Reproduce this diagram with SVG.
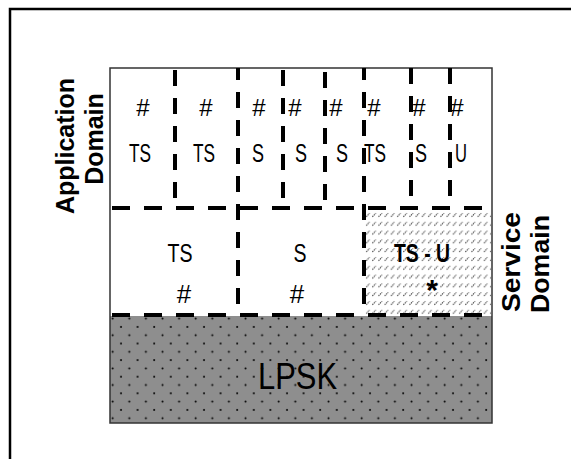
<svg xmlns="http://www.w3.org/2000/svg" width="571" height="459" viewBox="0 0 571 459">
  <style>
    .frame { fill: none; stroke: #000; stroke-width: 2.5; }
    .box { fill: none; stroke: #333; stroke-width: 1.5; }
    .vdash { stroke: #000; stroke-width: 4; stroke-dasharray: 16 12; fill: none; }
    .hdash { stroke: #000; stroke-width: 4; stroke-dasharray: 18 14; fill: none; }
    .lbl { font-family: "Liberation Sans", Arial, sans-serif; fill: #000; text-anchor: middle; }
    .hash { font-size: 24px; }
    .name { font-size: 25px; }
    .big { font-size: 26px; }
    .side { font-family: "Liberation Sans", Arial, sans-serif; font-weight: bold; font-size: 25px; fill: #000; }
  </style>
  <defs>
    <pattern id="dots" patternUnits="userSpaceOnUse" x="117" y="323" width="16.6" height="16.6">
      <circle cx="4" cy="4" r="1" fill="#000"/>
      <circle cx="12.3" cy="12.3" r="1" fill="#000"/>
    </pattern>
    <pattern id="hatch" patternUnits="userSpaceOnUse" x="365" y="211" width="6.2" height="8.8">
      <line x1="1.2" y1="5.8" x2="4.6" y2="2.2" stroke="#333" stroke-width="1" stroke-dasharray="1.3 0.8"/>
    </pattern>
  </defs>

  <!-- page frame -->
  <rect class="frame" x="10" y="9" width="640" height="520"/>

  <!-- kernel layer -->
  <g id="lpsk">
    <rect x="110" y="316" width="382" height="107" fill="#8e8e8e"/>
    <rect x="110" y="316" width="382" height="107" fill="url(#dots)"/>
    <text class="lbl" x="297.5" y="389" font-size="37" textLength="79" lengthAdjust="spacingAndGlyphs">LPSK</text>
  </g>

  <!-- shared service partition -->
  <g id="ts-u">
    <rect x="365" y="210" width="126" height="105" fill="#fff"/>
    <rect x="365" y="210" width="126" height="105" fill="url(#hatch)"/>
    <text class="lbl big" x="422" y="262" font-weight="bold" textLength="56" lengthAdjust="spacingAndGlyphs">TS - U</text>
    <text class="lbl" x="432" y="300" font-size="30" font-weight="bold">*</text>
  </g>

  <!-- outline of the whole stack -->
  <rect class="box" x="110" y="68" width="382" height="355"/>

  <!-- partition boundaries -->
  <g id="connectors">
    <line class="hdash" x1="112" y1="208" x2="492" y2="208"/>
    <line class="hdash" x1="112" y1="315" x2="492" y2="315"/>
    <line class="vdash" x1="175" y1="70" x2="175" y2="208"/>
    <line class="vdash" x1="238" y1="68" x2="238" y2="315" stroke-dashoffset="4"/>
    <line class="vdash" x1="283" y1="70" x2="283" y2="208"/>
    <line class="vdash" x1="325" y1="72" x2="325" y2="208"/>
    <line class="vdash" x1="364" y1="68" x2="364" y2="315" stroke-dashoffset="4"/>
    <line class="vdash" x1="411" y1="68" x2="411" y2="208"/>
    <line class="vdash" x1="450" y1="68" x2="450" y2="208"/>
  </g>

  <!-- application partitions -->
  <g id="app1"><text class="lbl hash" x="143" y="116">#</text><text class="lbl name" x="140" y="162" textLength="22" lengthAdjust="spacingAndGlyphs">TS</text></g>
  <g id="app2"><text class="lbl hash" x="206" y="116">#</text><text class="lbl name" x="204" y="162" textLength="22" lengthAdjust="spacingAndGlyphs">TS</text></g>
  <g id="app3"><text class="lbl hash" x="259" y="116">#</text><text class="lbl name" x="258" y="162" textLength="12" lengthAdjust="spacingAndGlyphs">S</text></g>
  <g id="app4"><text class="lbl hash" x="295" y="116">#</text><text class="lbl name" x="301" y="162" textLength="12" lengthAdjust="spacingAndGlyphs">S</text></g>
  <g id="app5"><text class="lbl hash" x="336" y="116">#</text><text class="lbl name" x="342" y="162" textLength="12" lengthAdjust="spacingAndGlyphs">S</text></g>
  <g id="app6"><text class="lbl hash" x="374" y="116">#</text><text class="lbl name" x="375" y="162" textLength="22" lengthAdjust="spacingAndGlyphs">TS</text></g>
  <g id="app7"><text class="lbl hash" x="419" y="116">#</text><text class="lbl name" x="421" y="162" textLength="12" lengthAdjust="spacingAndGlyphs">S</text></g>
  <g id="app8"><text class="lbl hash" x="457" y="116">#</text><text class="lbl name" x="461" y="162" textLength="12" lengthAdjust="spacingAndGlyphs">U</text></g>

  <!-- service partitions -->
  <g id="svc-ts"><text class="lbl name" x="180" y="262" textLength="25" lengthAdjust="spacingAndGlyphs">TS</text><text class="lbl big" x="184" y="303">#</text></g>
  <g id="svc-s"><text class="lbl name" x="300" y="262" textLength="13" lengthAdjust="spacingAndGlyphs">S</text><text class="lbl big" x="297" y="303">#</text></g>

  <!-- domain captions -->
  <g id="app-domain">
    <text class="side" text-anchor="middle" transform="translate(74,146) rotate(-90)">Application</text>
    <text class="side" text-anchor="middle" transform="translate(103,139) rotate(-90)">Domain</text>
  </g>
  <g id="svc-domain">
    <text class="side" text-anchor="start" transform="translate(520,312) rotate(-90)" textLength="100" lengthAdjust="spacingAndGlyphs">Service</text>
    <text class="side" text-anchor="start" transform="translate(549,313) rotate(-90)" textLength="98" lengthAdjust="spacingAndGlyphs">Domain</text>
  </g>
</svg>
